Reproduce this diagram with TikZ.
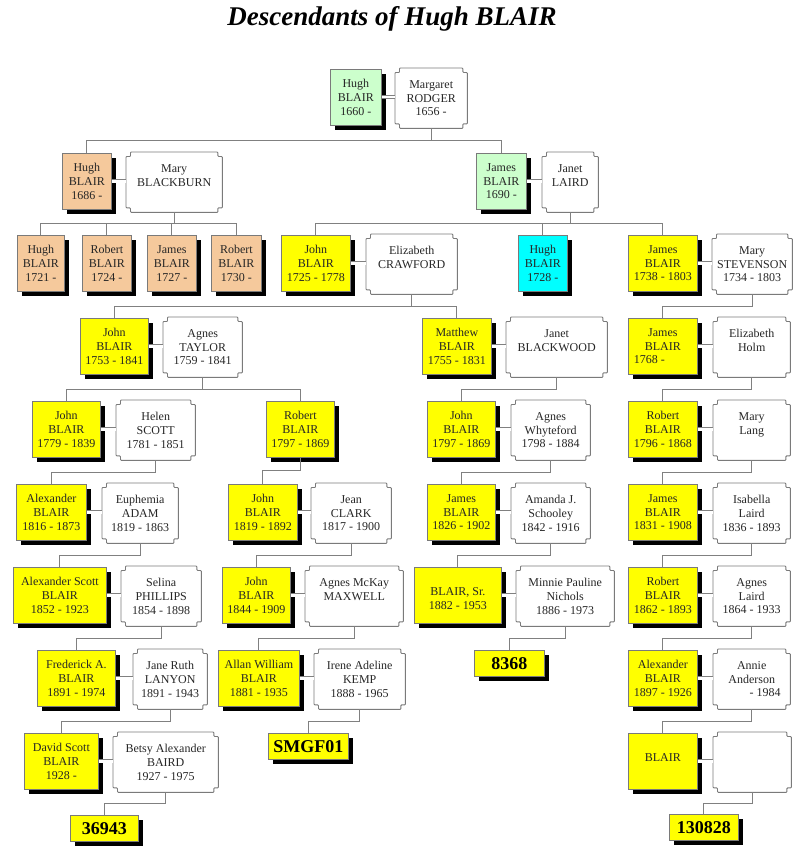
\documentclass[tikz,border=0pt]{standalone}
\usepackage{fontspec}
\setmainfont{Liberation Serif}
\usepackage{tikz}
\usetikzlibrary{calc,shadows}
\usepackage{xcolor}
\definecolor{kingreen}{HTML}{CCFFCC}
\definecolor{kintan}{HTML}{F5C99C}
\definecolor{kinyellow}{HTML}{FFFF00}
\definecolor{kincyan}{HTML}{00FFFF}
\definecolor{boxgray}{HTML}{7A7A7A}
\definecolor{linegray}{HTML}{808080}

\begin{document}
\begin{tikzpicture}[
  x=1pt, y=-1pt,
  blood/.style={
    rectangle,
    anchor=north west,
    draw=boxgray,
    fill=kinyellow,
    line width=0.8pt,
    inner sep=0pt,
    minimum height=56pt,
    align=center,
    text=black!85,
    font=\fontsize{12}{13.7}\selectfont,
    drop shadow={shadow xshift=5pt, shadow yshift=-5pt, fill=black, opacity=1}
  },
  spouse/.style={
    rectangle,
    anchor=north west,
    inner sep=0pt,
    minimum height=60pt,
    align=center,
    text=black!85,
    font=\fontsize{12}{13.7}\selectfont
  },
  idtag/.style={
    blood,
    minimum height=26pt,
    text=black,
    font=\fontsize{18}{20}\selectfont\bfseries
  },
  notchline/.style={
    draw=boxgray,
    line width=0.9pt,
    rounded corners=0.8pt
  },
  kin/.style={
    draw=linegray,
    line width=1.1pt
  },
  wed/.style={
    draw=linegray,
    line width=0.9pt,
    double=white,
    double distance=2.2pt
  }
]
  \useasboundingbox (0,0) rectangle (800,864);

  \node[font=\fontsize{27}{30}\selectfont\bfseries\itshape] (title) at (392,19) {Descendants of Hugh BLAIR};

  % =========================================================================
  % GENERATIONS 1 - 3
  % =========================================================================
  \node[blood, fill=kingreen, minimum width=51pt] (hugh1660) at (330,69) {Hugh\\BLAIR\\1660 -};
  \node[spouse, minimum width=72pt] (rodger) at (395,68) {Margaret\\RODGER\\1656 -};

  \node[blood, fill=kintan, minimum width=49pt] (hugh1686) at (62,153) {Hugh\\BLAIR\\1686 -};
  \node[spouse, minimum width=96pt] (blackburn) at (126,152) {Mary\\BLACKBURN\\~};
  \node[blood, fill=kingreen, minimum width=50pt] (james1690) at (476,153) {James\\BLAIR\\1690 -};
  \node[spouse, minimum width=56pt] (lairdj) at (542,152) {Janet\\LAIRD\\~};

  \node[blood, fill=kintan, minimum width=47pt] (hugh1721) at (17,235) {Hugh\\BLAIR\\1721 -};
  \node[blood, fill=kintan, minimum width=49pt] (robert1724) at (82,235) {Robert\\BLAIR\\1724 -};
  \node[blood, fill=kintan, minimum width=49pt] (james1727) at (147,235) {James\\BLAIR\\1727 -};
  \node[blood, fill=kintan, minimum width=50pt] (robert1730) at (211,235) {Robert\\BLAIR\\1730 -};
  \node[blood, minimum width=69pt] (john1725) at (281,235) {John\\BLAIR\\1725 - 1778};
  \node[spouse, minimum width=91pt] (crawford) at (366,234) {Elizabeth\\CRAWFORD\\~};
  \node[blood, fill=kincyan, minimum width=49pt] (hugh1728) at (518,235) {Hugh\\BLAIR\\1728 -};
  \node[blood, minimum width=69pt] (james1738) at (628,235) {James\\BLAIR\\1738 - 1803};
  \node[spouse, minimum width=80pt] (stevenson) at (712,234) {Mary\\STEVENSON\\1734 - 1803};

  % =========================================================================
  % GENERATIONS 4 - 6
  % =========================================================================
  \node[blood, minimum width=68pt] (john1753) at (80,318) {John\\BLAIR\\1753 - 1841};
  \node[spouse, minimum width=79pt] (taylor) at (163,317) {Agnes\\TAYLOR\\1759 - 1841};
  \node[blood, minimum width=69pt] (matthew1755) at (422,318) {Matthew\\BLAIR\\1755 - 1831};
  \node[spouse, minimum width=101pt] (blackwood) at (506,317) {Janet\\BLACKWOOD\\~};
  \node[blood, minimum width=69pt] (james1768) at (628,318) {James\\BLAIR\\1768 -\phantom{ 1900}};
  \node[spouse, minimum width=77pt] (holm) at (713,317) {Elizabeth\\Holm\\~};

  \node[blood, minimum width=68pt] (john1779) at (32,401) {John\\BLAIR\\1779 - 1839};
  \node[spouse, minimum width=79pt] (scott) at (116,400) {Helen\\SCOTT\\1781 - 1851};
  \node[blood, minimum width=68pt] (robert1797) at (266,401) {Robert\\BLAIR\\1797 - 1869};
  \node[blood, minimum width=68pt] (john1797) at (427,401) {John\\BLAIR\\1797 - 1869};
  \node[spouse, minimum width=79pt] (whyteford) at (511,400) {Agnes\\Whyteford\\1798 - 1884};
  \node[blood, minimum width=69pt] (robert1796) at (628,401) {Robert\\BLAIR\\1796 - 1868};
  \node[spouse, minimum width=77pt] (lang) at (713,400) {Mary\\Lang\\~};

  \node[blood, minimum width=70pt] (alexander1816) at (16,484) {Alexander\\BLAIR\\1816 - 1873};
  \node[spouse, minimum width=76pt] (adam) at (102,483) {Euphemia\\ADAM\\1819 - 1863};
  \node[blood, minimum width=69pt] (john1819) at (228,484) {John\\BLAIR\\1819 - 1892};
  \node[spouse, minimum width=80pt] (clark) at (311,483) {Jean\\CLARK\\1817 - 1900};
  \node[blood, minimum width=68pt] (james1826) at (427,484) {James\\BLAIR\\1826 - 1902};
  \node[spouse, minimum width=79pt] (schooley) at (511,483) {Amanda J.\\Schooley\\1842 - 1916};
  \node[blood, minimum width=69pt] (james1831) at (628,484) {James\\BLAIR\\1831 - 1908};
  \node[spouse, minimum width=77pt] (lairdi) at (713,483) {Isabella\\Laird\\1836 - 1893};

  % =========================================================================
  % GENERATIONS 7 - 9
  % =========================================================================
  \node[blood, minimum width=93pt] (alexander1852) at (13,567) {Alexander Scott\\BLAIR\\1852 - 1923};
  \node[spouse, minimum width=80pt] (phillips) at (121,566) {Selina\\PHILLIPS\\1854 - 1898};
  \node[blood, minimum width=68pt] (john1844) at (222,567) {John\\BLAIR\\1844 - 1909};
  \node[spouse, minimum width=98pt] (maxwell) at (305,566) {Agnes McKay\\MAXWELL\\~};
  \node[blood, minimum width=87pt] (blairsr) at (414,567) {~\\BLAIR, Sr.\\1882 - 1953};
  \node[spouse, minimum width=98pt] (nichols) at (516,566) {Minnie Pauline\\Nichols\\1886 - 1973};
  \node[blood, minimum width=69pt] (robert1862) at (628,567) {Robert\\BLAIR\\1862 - 1893};
  \node[spouse, minimum width=77pt] (lairda) at (713,566) {Agnes\\Laird\\1864 - 1933};

  \node[blood, minimum width=78pt] (frederick1891) at (37,650) {Frederick A.\\BLAIR\\1891 - 1974};
  \node[spouse, minimum width=74pt] (lanyon) at (133,649) {Jane Ruth\\LANYON\\1891 - 1943};
  \node[blood, minimum width=81pt] (allan1881) at (218,650) {Allan William\\BLAIR\\1881 - 1935};
  \node[spouse, minimum width=91pt] (kemp) at (314,649) {Irene Adeline\\KEMP\\1888 - 1965};
  \node[idtag, minimum width=70pt] (id8368) at (474,650) {8368};
  \node[blood, minimum width=69pt] (alexander1897) at (628,650) {Alexander\\BLAIR\\1897 - 1926};
  \node[spouse, minimum width=77pt] (anderson) at (713,649) {Annie\\Anderson\\\phantom{1900 }- 1984};

  \node[blood, minimum width=74pt] (david1928) at (24,733) {David Scott\\BLAIR\\1928 -};
  \node[spouse, minimum width=105pt] (baird) at (113,732) {Betsy Alexander\\BAIRD\\1927 - 1975};
  \node[idtag, minimum width=80pt] (idsmgf) at (268,733) {SMGF01};
  \node[blood, minimum width=69pt] (blair) at (628,733) {~\\BLAIR\\~};
  \node[spouse, minimum width=78pt] (unnamed) at (713,732) {~\\~\\~};

  \node[idtag, minimum width=68pt] (id36943) at (70,815) {36943};
  \node[idtag, minimum width=69pt] (id130828) at (669,814) {130828};

  % notched spouse frames
  \foreach \s in {rodger,blackburn,lairdj,crawford,stevenson,taylor,blackwood,holm,
                  scott,whyteford,lang,adam,clark,schooley,lairdi,phillips,maxwell,
                  nichols,lairda,lanyon,kemp,anderson,baird,unnamed}{
    \draw[notchline]
      ([xshift=4.5pt]\s.north west) -- ([xshift=-4.5pt]\s.north east)
      -- ([xshift=-4.5pt,yshift=-4.5pt]\s.north east) -- ([yshift=-4.5pt]\s.north east)
      -- ([yshift=4.5pt]\s.south east) -- ([xshift=-4.5pt,yshift=4.5pt]\s.south east)
      -- ([xshift=-4.5pt]\s.south east) -- ([xshift=4.5pt]\s.south west)
      -- ([xshift=4.5pt,yshift=4.5pt]\s.south west) -- ([yshift=4.5pt]\s.south west)
      -- ([yshift=-4.5pt]\s.north west) -- ([xshift=4.5pt,yshift=-4.5pt]\s.north west)
      -- cycle;
  }

  % marriages
  \foreach \b/\s in {hugh1660/rodger,hugh1686/blackburn,james1690/lairdj,john1725/crawford,
                     james1738/stevenson,john1753/taylor,matthew1755/blackwood,james1768/holm,
                     john1779/scott,john1797/whyteford,robert1796/lang,alexander1816/adam,
                     john1819/clark,james1826/schooley,james1831/lairdi,alexander1852/phillips,
                     john1844/maxwell,blairsr/nichols,robert1862/lairda,frederick1891/lanyon,
                     allan1881/kemp,alexander1897/anderson,david1928/baird,blair/unnamed}{
    \draw[wed] (\b.east) -- (\b.east -| \s.west);
  }

  % families with several children
  \coordinate (bar1) at ($(rodger.south)!0.5!(hugh1686.north)$);
  \draw[kin] (rodger.south) -- (rodger.south |- bar1);
  \draw[kin] (hugh1686.north) |- (james1690.north |- bar1) -- (james1690.north);

  \coordinate (bar2) at ($(blackburn.south)!0.5!(hugh1721.north)$);
  \draw[kin] (blackburn.south) -- (blackburn.south |- bar2);
  \draw[kin] (hugh1721.north) |- (robert1730.north |- bar2) -- (robert1730.north);
  \draw[kin] (robert1724.north) -- (robert1724.north |- bar2);
  \draw[kin] (james1727.north) -- (james1727.north |- bar2);

  \coordinate (bar3) at ($(lairdj.south)!0.5!(john1725.north)$);
  \draw[kin] (lairdj.south) -- (lairdj.south |- bar3);
  \draw[kin] (john1725.north) |- (james1738.north |- bar3) -- (james1738.north);
  \draw[kin] (hugh1728.north) -- (hugh1728.north |- bar3);

  \coordinate (bar4) at ($(crawford.south)!0.5!(john1753.north)$);
  \draw[kin] (crawford.south) -- (crawford.south |- bar4);
  \draw[kin] (john1753.north) |- (matthew1755.north |- bar4) -- (matthew1755.north);

  \coordinate (bar5) at ($(taylor.south)!0.5!(john1779.north)$);
  \draw[kin] (taylor.south) -- (taylor.south |- bar5);
  \draw[kin] (john1779.north) |- (robert1797.north |- bar5) -- (robert1797.north);

  % single lines of descent
  \foreach \p/\c in {stevenson/james1768,blackwood/john1797,holm/robert1796,
                     scott/alexander1816,robert1797/john1819,whyteford/james1826,
                     lang/james1831,adam/alexander1852,clark/john1844,schooley/blairsr,
                     lairdi/robert1862,phillips/frederick1891,maxwell/allan1881,
                     nichols/id8368,lairda/alexander1897,lanyon/david1928,kemp/idsmgf,
                     anderson/blair,baird/id36943,unnamed/id130828}{
    \draw[kin] (\p.south) |- ($(\p.south)!0.5!(\c.north)$) -| (\c.north);
  }

\end{tikzpicture}
\end{document}
